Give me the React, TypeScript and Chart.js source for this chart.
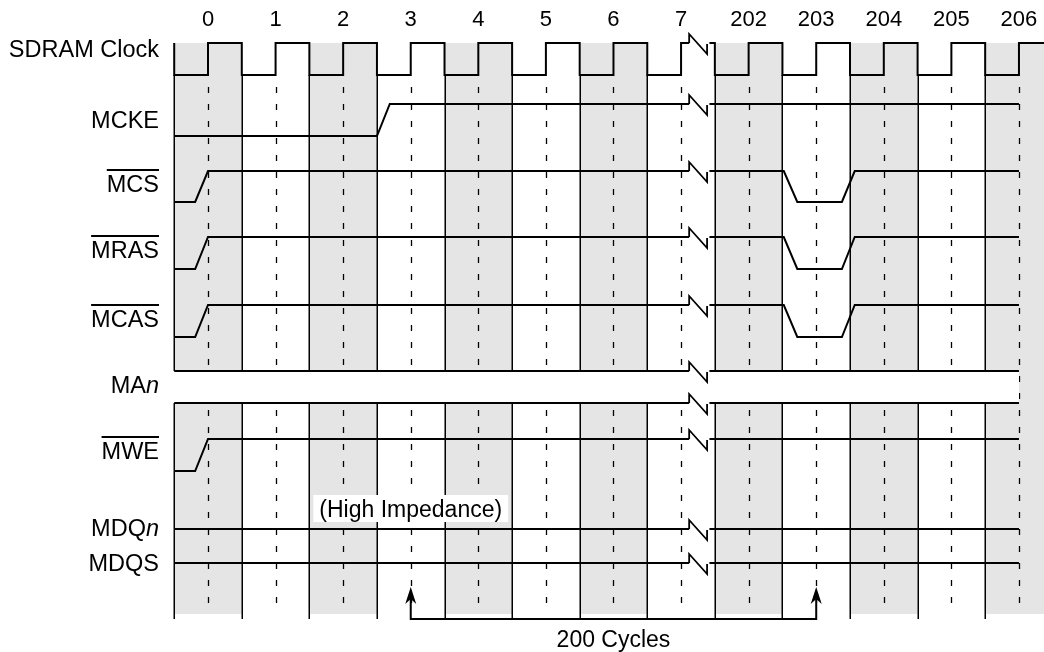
import React, { useEffect, useRef } from 'react';
import { Chart, registerables } from 'chart.js';

Chart.register(...registerables);

// ---------- data ----------
const cycleLabels = ['0', '1', '2', '3', '4', '5', '6', '7', '202', '203', '204', '205', '206'];
const signalLabels = ['SDRAM Clock', 'MCKE', 'MCS', 'MRAS', 'MCAS', 'MAn', 'MWE', 'MDQn', 'MDQS'];
const activeLowLabels = ['MCS', 'MRAS', 'MCAS', 'MWE'];

// time break between cycle 7 and cycle 202 (in column units)
const BREAK_START = 7.12;
const BREAK_END = 7.42;

// level changes (time in column units, level 1 = high, 0 = low)
const clockTimes = [-0.5, -0.5, 0, 0.5, 1, 1.5, 2, 2.5, 3, 3.5, 4, 4.5, 5, 5.5, 6, 6.5, 7, 7.12, 7.42, 7.5, 8, 8.5, 9, 9.5, 10, 10.5, 11, 11.5, 12, 12.4];
const clockLevels = [1, 0, 1, 0, 1, 0, 1, 0, 1, 0, 1, 0, 1, 0, 1, 0, 1, 1, 1, 0, 1, 0, 1, 0, 1, 0, 1, 0, 1, 1];

const mckeTimes = [-0.5, 2.5, 2.69, 7.12, 7.42, 12];
const mckeLevels = [0, 0, 1, 1, 1, 1];

const mcsTimes = [-0.5, -0.19, 0, 7.12, 7.42, 8.52, 8.72, 9.38, 9.57, 12];
const mcsLevels = [0, 0, 1, 1, 1, 1, 0, 0, 1, 1];

const mrasTimes = [-0.5, -0.19, 0, 7.12, 7.42, 8.52, 8.72, 9.38, 9.57, 12];
const mrasLevels = [0, 0, 1, 1, 1, 1, 0, 0, 1, 1];

const mcasTimes = [-0.5, -0.19, 0, 7.12, 7.42, 8.52, 8.72, 9.38, 9.57, 12];
const mcasLevels = [0, 0, 1, 1, 1, 1, 0, 0, 1, 1];

const manTimes = [-0.5, 7.12, 7.42, 12];
const manLevels = [1, 1, 1, 1];

const mweTimes = [-0.5, -0.19, 0, 7.12, 7.42, 12];
const mweLevels = [0, 0, 1, 1, 1, 1];

const mdqnTimes = [-0.5, 7.12, 7.42, 12];
const mdqnLevels = [1, 1, 1, 1];

const mdqsTimes = [-0.5, 7.12, 7.42, 12];
const mdqsLevels = [1, 1, 1, 1];

const bracketFrom = 3; // cycle 3
const bracketTo = 9; // cycle 203
const bracketText = '200 Cycles';
const hiZText = '(High Impedance)';

// ---------- layout ----------
const W = 1044;
const H = 652;
const X0_PX = 208;
const PX_PER_COL = 67.58;
const X_MIN = -X0_PX / PX_PER_COL;
const X_MAX = X_MIN + W / PX_PER_COL;

const ROW = {
  clock: { hi: 43, lo: 75 },
  mcke: { hi: 104, lo: 136 },
  mcs: { hi: 171, lo: 202 },
  mras: { hi: 237, lo: 269 },
  mcas: { hi: 305, lo: 337 },
  manTop: { hi: 371, lo: 371 },
  manBot: { hi: 403, lo: 403 },
  mwe: { hi: 439, lo: 471 },
  mdqn: { hi: 529, lo: 529 },
  mdqs: { hi: 563, lo: 563 },
};
const LABEL_BASE = [57, 128, 192, 258, 327, 393, 459, 536, 571];
const LABEL_RIGHT = 159;
const GRAY_TOP = 43;
const GRAY_BOTTOM = 614;
const GRID_BOTTOM = 619;
const DASH_TOP = 87;
const DASH_BOTTOM = 603;
const ARROW_TIP = 587;
const FONT = '"Liberation Sans", Arial, Helvetica, sans-serif';

function wave(times: number[], levels: number[], r: { hi: number; lo: number }) {
  const pts: { x: number; y: number | null }[] = [];
  times.forEach((t, i) => {
    if (t === BREAK_END && i > 0) pts.push({ x: (BREAK_START + BREAK_END) / 2, y: null });
    pts.push({ x: t, y: levels[i] ? r.hi : r.lo });
  });
  return pts;
}

function breakMark(y: number) {
  const x2 = BREAK_START + 0.265;
  return [
    { x: BREAK_START, y },
    { x: BREAK_START, y: y - 9 },
    { x: x2, y: y + 11 },
    { x: x2, y: y + 1 },
  ];
}

const lineDs = (data: any[], extra: any = {}) => ({
  data,
  borderColor: '#000',
  borderWidth: 2,
  pointRadius: 0,
  fill: false,
  tension: 0,
  spanGaps: false,
  borderJoinStyle: 'miter',
  ...extra,
});

const diagramPlugin = {
  id: 'timingDiagram',
  beforeDatasetsDraw(chart: any) {
    const { ctx } = chart;
    const xs = chart.scales.x;
    const ys = chart.scales.y;
    ctx.save();
    // shaded columns
    ctx.fillStyle = '#e5e5e5';
    cycleLabels.forEach((_, i) => {
      if (i % 2 !== 0) return;
      const x0 = xs.getPixelForValue(i - 0.5);
      const x1 = xs.getPixelForValue(i + 0.5);
      const y0 = ys.getPixelForValue(GRAY_TOP);
      const y1 = ys.getPixelForValue(GRAY_BOTTOM);
      ctx.fillRect(x0, y0, x1 - x0, y1 - y0);
    });
    // solid lines at falling clock edges
    ctx.strokeStyle = '#000';
    ctx.lineWidth = 1.5;
    cycleLabels.forEach((_, i) => {
      const x = Math.round(xs.getPixelForValue(i - 0.5)) + 0.25;
      ctx.beginPath();
      ctx.moveTo(x, ys.getPixelForValue(ROW.clock.lo));
      ctx.lineTo(x, ys.getPixelForValue(GRID_BOTTOM));
      ctx.stroke();
    });
    // dashed lines at rising edges
    ctx.lineWidth = 1.3;
    ctx.setLineDash([6, 11]);
    cycleLabels.forEach((_, i) => {
      const x = Math.round(xs.getPixelForValue(i)) + 0.5;
      ctx.beginPath();
      ctx.moveTo(x, ys.getPixelForValue(DASH_TOP));
      ctx.lineTo(x, ys.getPixelForValue(DASH_BOTTOM));
      ctx.stroke();
    });
    ctx.setLineDash([]);
    // MAn bus body
    ctx.fillStyle = '#fff';
    const bx0 = xs.getPixelForValue(manTimes[0]) - 2;
    const bx1 = xs.getPixelForValue(manTimes[manTimes.length - 1]);
    const by0 = ys.getPixelForValue(ROW.manTop.hi);
    const by1 = ys.getPixelForValue(ROW.manBot.hi);
    ctx.fillRect(bx0, by0, bx1 - bx0, by1 - by0);
    ctx.restore();
  },
  afterDatasetsDraw(chart: any) {
    const { ctx } = chart;
    const xs = chart.scales.x;
    const ys = chart.scales.y;
    ctx.save();
    ctx.fillStyle = '#000';
    ctx.strokeStyle = '#000';
    // cycle numbers
    ctx.font = `22px ${FONT}`;
    ctx.textAlign = 'center';
    ctx.textBaseline = 'alphabetic';
    cycleLabels.forEach((lab, i) => {
      ctx.fillText(lab, xs.getPixelForValue(i), 26);
    });
    // signal names
    const fontN = `23.5px ${FONT}`;
    const fontI = `italic 23.5px ${FONT}`;
    signalLabels.forEach((lab, i) => {
      const y = LABEL_BASE[i];
      ctx.textAlign = 'left';
      if (lab.endsWith('n')) {
        const base = lab.slice(0, -1);
        ctx.font = fontN;
        const w1 = ctx.measureText(base).width;
        ctx.font = fontI;
        const w2 = ctx.measureText('n').width;
        const x0 = LABEL_RIGHT - w1 - w2;
        ctx.font = fontN;
        ctx.fillText(base, x0, y);
        ctx.font = fontI;
        ctx.fillText('n', x0 + w1, y);
      } else {
        ctx.font = fontN;
        const w = ctx.measureText(lab).width;
        ctx.fillText(lab, LABEL_RIGHT - w, y);
        if (activeLowLabels.includes(lab)) {
          ctx.lineWidth = 2;
          ctx.beginPath();
          ctx.moveTo(LABEL_RIGHT - w, y - 22);
          ctx.lineTo(LABEL_RIGHT, y - 22);
          ctx.stroke();
        }
      }
    });
    // High impedance note
    ctx.font = `23px ${FONT}`;
    const hw = ctx.measureText(hiZText).width;
    const hx = xs.getPixelForValue(3);
    ctx.fillStyle = '#fff';
    ctx.fillRect(hx - hw / 2 - 6, 495, hw + 12, 27);
    ctx.fillStyle = '#000';
    ctx.textAlign = 'center';
    ctx.fillText(hiZText, hx, 517);
    // arrow heads
    [bracketFrom, bracketTo].forEach((c) => {
      const x = xs.getPixelForValue(c);
      const y = ys.getPixelForValue(ARROW_TIP);
      ctx.beginPath();
      ctx.moveTo(x, y);
      ctx.lineTo(x - 5.5, y + 17);
      ctx.lineTo(x, y + 12);
      ctx.lineTo(x + 5.5, y + 17);
      ctx.closePath();
      ctx.fill();
    });
    // bracket label
    const mx = (xs.getPixelForValue(bracketFrom) + xs.getPixelForValue(bracketTo)) / 2;
    ctx.fillText(bracketText, mx, 647);
    ctx.restore();
  },
};

export default function App() {
  const ref = useRef<HTMLCanvasElement | null>(null);
  useEffect(() => {
    if (!ref.current) return;
    const breakRows = [ROW.clock.hi, ROW.mcke.hi, ROW.mcs.hi, ROW.mras.hi, ROW.mcas.hi, ROW.manTop.hi, ROW.manBot.hi, ROW.mwe.hi, ROW.mdqn.hi, ROW.mdqs.hi];
    const datasets: any[] = [
      lineDs(wave(clockTimes, clockLevels, ROW.clock), { stepped: 'before' }),
      lineDs(wave(mckeTimes, mckeLevels, ROW.mcke)),
      lineDs(wave(mcsTimes, mcsLevels, ROW.mcs)),
      lineDs(wave(mrasTimes, mrasLevels, ROW.mras)),
      lineDs(wave(mcasTimes, mcasLevels, ROW.mcas)),
      lineDs(wave(manTimes, manLevels, ROW.manTop)),
      lineDs(wave(manTimes, manLevels, ROW.manBot)),
      lineDs(wave(mweTimes, mweLevels, ROW.mwe)),
      lineDs(wave(mdqnTimes, mdqnLevels, ROW.mdqn)),
      lineDs(wave(mdqsTimes, mdqsLevels, ROW.mdqs)),
      lineDs([
        { x: bracketFrom, y: ARROW_TIP + 10 },
        { x: bracketFrom, y: GRID_BOTTOM },
        { x: bracketTo, y: GRID_BOTTOM },
        { x: bracketTo, y: ARROW_TIP + 10 },
      ]),
      ...breakRows.map((y) => lineDs(breakMark(y), { borderWidth: 1.8 })),
    ];
    const chart = new Chart(ref.current, {
      type: 'line',
      data: { datasets },
      options: {
        animation: false,
        responsive: false,
        maintainAspectRatio: false,
        devicePixelRatio: 1,
        events: [],
        layout: { padding: 0 },
        plugins: { legend: { display: false }, tooltip: { enabled: false } },
        scales: {
          x: { type: 'linear', min: X_MIN, max: X_MAX, display: false },
          y: { type: 'linear', min: 0, max: H, reverse: true, display: false },
        },
      },
      plugins: [diagramPlugin],
    } as any);
    return () => chart.destroy();
  }, []);
  return (
    <div style={{ position: 'fixed', left: 0, top: 0, width: W, height: H, background: '#fff' }}>
      <canvas ref={ref} width={W} height={H} style={{ display: 'block', width: W, height: H }} />
    </div>
  );
}
